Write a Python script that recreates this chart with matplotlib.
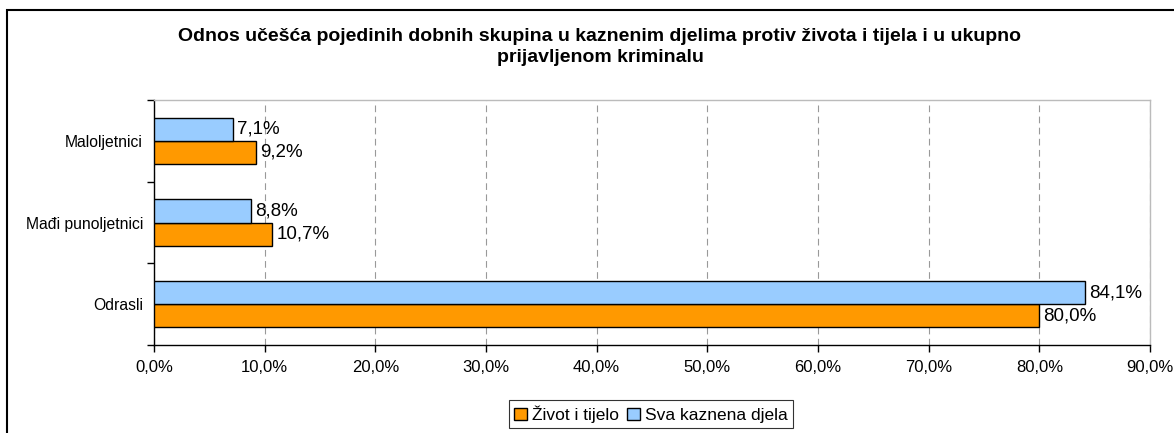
import matplotlib
matplotlib.use("Agg")
import matplotlib.pyplot as plt
from matplotlib.patches import Rectangle, Patch
import numpy as np

plt.rcParams['font.family'] = ['Liberation Sans', 'DejaVu Sans']

categories = ["Odrasli", "Mađi punoljetnici", "Maloljetnici"]
zivot = [80.0, 10.7, 9.2]
sva = [84.1, 8.8, 7.1]
series_names = ["Život i tijelo", "Sva kaznena djela"]
xticks = [0, 10, 20, 30, 40, 50, 60, 70, 80, 90]
title = "Odnos učešća pojedinih dobnih skupina u kaznenim djelima protiv života i tijela i u ukupno\nprijavljenom kriminalu"

W, H = 1174, 433
fig = plt.figure(figsize=(W/100, H/100), dpi=100)
ax = fig.add_axes([154/W, 1-345/H, (1150-154)/W, (345-100)/H])

# outer frame
fig.patches.append(Rectangle((7/W, -0.1), 1.2, 1-10/H+0.1, transform=fig.transFigure,
                             fill=False, edgecolor='black', linewidth=1.5))

y = np.arange(len(categories))
h = 0.285
orange = '#FF9900'
blue = '#99CCFF'
b1 = ax.barh(y - h/2, zivot, height=h, color=orange, edgecolor='black', linewidth=1, label=series_names[0], zorder=3)
b2 = ax.barh(y + h/2, sva, height=h, color=blue, edgecolor='black', linewidth=1, label=series_names[1], zorder=3)

for bars, vals in ((b1, zivot), (b2, sva)):
    for bar, v in zip(bars, vals):
        ax.annotate(f"{v:.1f}%".replace('.', ','), (bar.get_width(), bar.get_y() + bar.get_height()/2),
                    xytext=(3, 0), textcoords='offset points', ha='left', va='center', fontsize=13.5)

ax.set_xlim(0, 90)
ax.set_ylim(-0.5, 2.5)
ax.set_xticks(xticks)
ax.set_xticklabels([f"{t:.1f}%".replace('.', ',') for t in xticks], fontsize=12)
ax.set_yticks(y)
ax.set_yticklabels(categories, fontsize=11.3)
ax.tick_params(axis='y', length=0, pad=8)
ax.set_yticks([-0.5, 0.5, 1.5, 2.5], minor=True)
ax.tick_params(axis='y', which='minor', length=5, direction='out', width=1)
ax.tick_params(axis='x', length=5, direction='out', width=1, pad=6)
ax.xaxis.grid(True, linestyle=(0, (6, 4)), color='#999999', linewidth=0.8, zorder=0)
ax.set_axisbelow(True)
for s in ('top', 'right'):
    ax.spines[s].set_color('#BBBBBB')
    ax.spines[s].set_linewidth(1)
for s in ('left', 'bottom'):
    ax.spines[s].set_color('black')
    ax.spines[s].set_linewidth(1)

fig.text(600/W, 1-47/H, title, ha='center', va='center', fontsize=14, fontweight='bold', linespacing=1.35)

handles = [Patch(facecolor=orange, edgecolor='black'), Patch(facecolor=blue, edgecolor='black')]
leg = fig.legend(handles, series_names, loc='center', bbox_to_anchor=(651/W, 1-414/H), ncol=2,
                 fontsize=12.5, frameon=True, fancybox=False, edgecolor='black', handlelength=0.7,
                 handleheight=0.7, handletextpad=0.3, columnspacing=0.5, borderpad=0.3)
leg.get_frame().set_linewidth(0.8)

fig.savefig("out.png", dpi=100)
